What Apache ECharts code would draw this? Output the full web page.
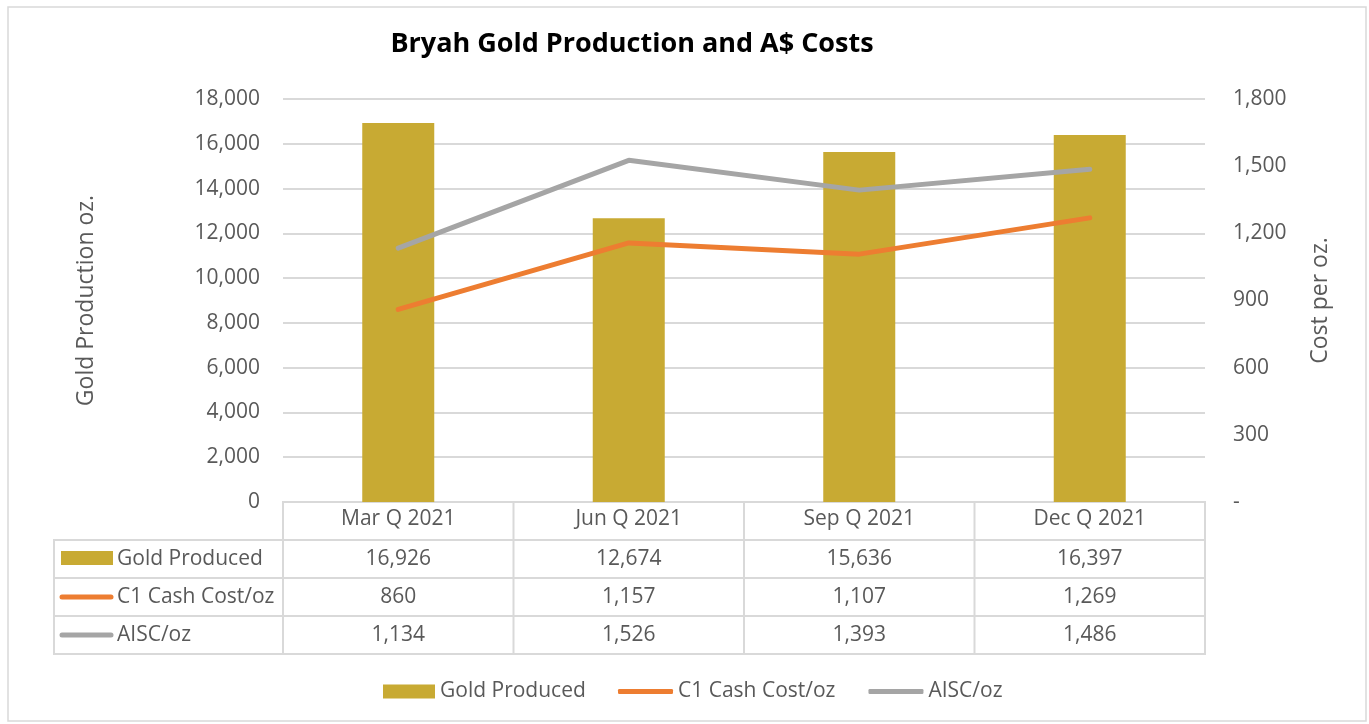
<!DOCTYPE html>
<html>
<head>
<meta charset="utf-8">
<script src="https://cdn.jsdelivr.net/npm/echarts@6/dist/echarts.min.js"></script>
<style>
  html, body { margin: 0; padding: 0; background: #fff; }
  #chart { width: 1369px; height: 724px; }
</style>
</head>
<body>
<div id="chart"></div>
<script>
// data
var quarters = ["Mar Q 2021", "Jun Q 2021", "Sep Q 2021", "Dec Q 2021"];
var goldProduced = [16926, 12674, 15636, 16397];
var c1CashCost = [860, 1157, 1107, 1269];
var aiscCost = [1134, 1526, 1393, 1486];
var seriesNames = ["Gold Produced", "C1 Cash Cost/oz", "AISC/oz"];

var GOLD = "#C8AA33", ORANGE = "#ED7D31", GREY = "#A5A5A5";
var LINE = "#D9D9D9", TXT = "#595959";
var FONT = "Open Sans";

// plot area / table layout
var gLeft = 283, gRight = 1205, gTop = 99, gBottom = 502;
var rowH = 38, tableLeft = 54;
var colW = (gRight - gLeft) / quarters.length;

function fmt(v) { return v.toLocaleString("en-US"); }

function buildTable() {
  var els = [];
  var rows = [goldProduced, c1CashCost, aiscCost];
  var colors = [GOLD, ORANGE, GREY];
  // header row borders
  els.push({ type: "rect", shape: { x: gLeft, y: gBottom, width: gRight - gLeft, height: rowH },
    style: { fill: null, stroke: LINE, lineWidth: 2 } });
  // data rows
  for (var r = 0; r < rows.length; r++) {
    var y = gBottom + rowH * (r + 1);
    els.push({ type: "rect", shape: { x: tableLeft, y: y, width: gRight - tableLeft, height: rowH },
      style: { fill: null, stroke: LINE, lineWidth: 2 } });
    // key
    if (r === 0) {
      els.push({ type: "rect", shape: { x: 61, y: y + 11, width: 52, height: 14 }, style: { fill: colors[r] } });
    } else {
      els.push({ type: "line", shape: { x1: 62, y1: y + 19, x2: 111, y2: y + 19 },
        style: { stroke: colors[r], lineWidth: 5, lineCap: "round" } });
    }
    els.push({ type: "text", x: 117, y: y + rowH / 2,
      style: { text: seriesNames[r], font: "21px " + FONT, fill: TXT, align: "left", verticalAlign: "middle" } });
    for (var c = 0; c < quarters.length; c++) {
      els.push({ type: "text", x: gLeft + colW * (c + 0.5), y: y + rowH / 2,
        style: { text: fmt(rows[r][c]), font: "21px " + FONT, fill: TXT, align: "center", verticalAlign: "middle" } });
    }
  }
  // column separators
  for (var k = 0; k <= quarters.length; k++) {
    els.push({ type: "line", shape: { x1: gLeft + colW * k, y1: gBottom, x2: gLeft + colW * k, y2: gBottom + rowH * 4 },
      style: { stroke: LINE, lineWidth: 2 } });
  }
  // outer frame
  els.push({ type: "rect", shape: { x: 8, y: 7, width: 1358, height: 714 },
    style: { fill: null, stroke: LINE, lineWidth: 1.5 } });
  return els;
}

var chart = echarts.init(document.getElementById("chart"));
chart.setOption({
  backgroundColor: "#fff",
  animation: false,
  textStyle: { fontFamily: FONT },
  title: {
    text: "Bryah Gold Production and A$ Costs",
    left: 627, top: 26, textAlign: "center",
    textStyle: { fontFamily: FONT, fontSize: 27, fontWeight: "bold", color: "#000" }
  },
  legend: [
    {
      left: 383, top: 681, padding: 0,
      itemWidth: 52, itemHeight: 14,
      textStyle: { fontFamily: FONT, fontSize: 21, color: TXT },
      data: [{ name: seriesNames[0], icon: "rect" }]
    },
    {
      left: 618, top: 681, padding: 0,
      itemWidth: 55, itemHeight: 5, itemGap: 33,
      textStyle: { fontFamily: FONT, fontSize: 21, color: TXT },
      data: [
        { name: seriesNames[1], icon: "roundRect" },
        { name: seriesNames[2], icon: "roundRect" }
      ]
    }
  ],
  grid: { left: gLeft, right: 1369 - gRight, top: gTop, bottom: 724 - gBottom, containLabel: false },
  xAxis: {
    type: "category",
    data: quarters,
    axisLine: { lineStyle: { color: LINE, width: 2 } },
    axisTick: { show: false },
    axisLabel: { color: TXT, fontSize: 21, fontFamily: FONT, margin: 7 }
  },
  yAxis: [
    {
      type: "value", min: 0, max: 18000, interval: 2000,
      name: "Gold Production oz.", nameLocation: "middle", nameGap: 185,
      nameTextStyle: { color: TXT, fontSize: 23, fontFamily: FONT },
      axisLine: { show: false }, axisTick: { show: false },
      axisLabel: { color: TXT, fontSize: 21, fontFamily: FONT, margin: 23, formatter: fmt },
      splitLine: { lineStyle: { color: LINE, width: 2 } }
    },
    {
      type: "value", min: 0, max: 1800, interval: 300, position: "right",
      name: "Cost per oz.", nameLocation: "middle", nameGap: 104,
      nameTextStyle: { color: TXT, fontSize: 23, fontFamily: FONT },
      axisLine: { show: false }, axisTick: { show: false },
      axisLabel: { color: TXT, fontSize: 21, fontFamily: FONT, margin: 28,
        formatter: function (v) { return v === 0 ? "-" : fmt(v); } },
      splitLine: { show: false }
    }
  ],
  series: [
    {
      name: seriesNames[0], type: "bar", yAxisIndex: 0, barWidth: 72,
      itemStyle: { color: GOLD }, data: goldProduced
    },
    {
      name: seriesNames[1], type: "line", yAxisIndex: 1, symbol: "none",
      lineStyle: { color: ORANGE, width: 5, cap: "round" }, itemStyle: { color: ORANGE },
      data: c1CashCost
    },
    {
      name: seriesNames[2], type: "line", yAxisIndex: 1, symbol: "none",
      lineStyle: { color: GREY, width: 5, cap: "round" }, itemStyle: { color: GREY },
      data: aiscCost
    }
  ],
  graphic: buildTable()
});
window.addEventListener("resize", function () { chart.resize(); });
</script>
</body>
</html>
